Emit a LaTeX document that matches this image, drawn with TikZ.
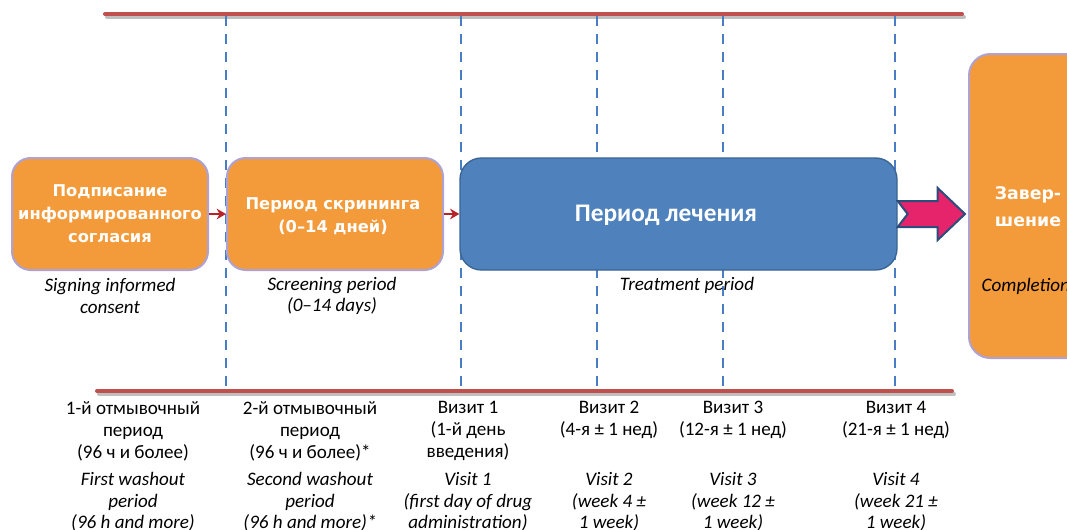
\documentclass[tikz,border=0pt]{standalone}
\usepackage{fontspec}
\setmainfont{Carlito}
\newfontfamily\boxfont{DejaVu Sans}
\usetikzlibrary{calc,arrows.meta}
\definecolor{orfill}{HTML}{F39A3B}
\definecolor{orline}{HTML}{ADA2D2}
\definecolor{blfill}{HTML}{4F81BD}
\definecolor{blline}{HTML}{3A6494}
\definecolor{redln}{HTML}{C0504D}
\definecolor{dashbl}{HTML}{4A7EC4}
\definecolor{pinkar}{HTML}{E6246B}
\definecolor{navy}{HTML}{2C4D7C}
\definecolor{darkred}{HTML}{B8232A}
\tikzset{
  orbox/.style={draw=orline, line width=1.5pt, fill=orfill, rounded corners=14, inner sep=0pt},
  blbox/.style={draw=blline, line width=1pt, fill=blfill, rounded corners=16, inner sep=0pt},
  boxtxt/.style={text=white, font=\boxfont\bfseries\fontsize{12.2}{17.2}\selectfont, align=center},
  timeline/.style={draw=redln, line width=3pt, line cap=round},
  tshadow/.style={draw=black!25, line width=3pt, line cap=round},
  vdash/.style={draw=dashbl, line width=0.9pt, dash pattern=on 7.5pt off 6pt},
  smallarrow/.style={draw=darkred, line width=2pt, -{Stealth[length=7pt,width=8pt]}},
  entxt/.style={font=\itshape\fontsize{14.3}{16.3}\selectfont, align=center},
  rutxt/.style={font=\fontsize{14.3}{16.5}\selectfont, align=center},
  lbl/.style={anchor=north, inner sep=0pt}
}
\begin{document}
\begin{tikzpicture}[x=0.75pt,y=-0.75pt]
\useasboundingbox (0,0) rectangle (1067,529);
\clip (0,0) rectangle (1067,529);
% timelines
\coordinate (tl1) at (105,14); \coordinate (tl2) at (962,14);
\coordinate (bl1) at (97,391); \coordinate (bl2) at (952,391);
\draw[tshadow] ($(tl1)+(2,3)$) -- ($(tl2)+(2,3)$);
\draw[tshadow] ($(bl1)+(2,3)$) -- ($(bl2)+(2,3)$);
% dashed verticals
\foreach \x/\n in {226/a,461/b,597/c,723/d,895/e}{
  \coordinate (top\n) at (\x,16);
  \coordinate (bot\n) at (\x,389);
  \draw[vdash] (top\n) -- (bot\n);
}
\draw[timeline] (tl1) -- (tl2);
\draw[timeline] (bl1) -- (bl2);
% boxes
\node[orbox, minimum width=196*0.75pt, minimum height=112*0.75pt] (consent) at (110,214) {};
\node[boxtxt] at (consent) {Подписание\\информированного\\согласия};
\node[orbox, minimum width=216*0.75pt, minimum height=112*0.75pt] (screen) at (335,214) {};
\node[boxtxt] at (333,216) {Период скрининга\\(0–14 дней)};
\node[blbox, minimum width=437*0.75pt, minimum height=112*0.75pt] (treat) at (678.5,214) {};
\node[text=white, font=\bfseries\fontsize{19}{22}\selectfont] at (666,215) {Период лечения};
\node[orbox, rounded corners=16, minimum width=130*0.75pt, minimum height=304*0.75pt, anchor=north west] (compl) at (968,53) {};
\node[boxtxt, font=\boxfont\bfseries\fontsize{13}{20.5}\selectfont, anchor=north] at (1028,182) {Завер-\\шение};
\node[entxt, anchor=west] at (977,286) {Completion};
% small arrows
\draw[smallarrow] (consent.east) -- (screen.west);
\draw[smallarrow] (screen.east) -- (treat.west);
% big notched arrow
\coordinate (at) at (treat.east);
\draw[fill=pinkar, draw=navy, line width=1.5pt, line join=miter]
  ($(at)+(0,-13)$) -- ($(at)+(40,-13)$) -- ($(at)+(40,-26)$) -- ($(compl.west |- at)+(-3,0)$)
  -- ($(at)+(40,26)$) -- ($(at)+(40,13)$) -- ($(at)+(0,13)$) -- ($(at)+(10,0)$) -- cycle;
% captions under boxes
\node[entxt] at (110,296) {Signing informed\\consent};
\node[entxt] at (332,296) {Screening period\\(0–14 days)};
\node[entxt] at (687,285) {Treatment period};
% bottom labels
\node[rutxt, lbl] at (133,401) {1-й отмывочный\\период\\(96 ч и более)};
\node[rutxt, lbl] at (310,401) {2-й отмывочный\\период\\(96 ч и более)*};
\node[rutxt, lbl] at (468,401) {Визит 1\\(1-й день\\введения)};
\node[rutxt, lbl] at (609,401) {Визит 2\\(4-я ± 1 нед)};
\node[rutxt, lbl] at (733,401) {Визит 3\\(12-я ± 1 нед)};
\node[rutxt, lbl] at (896,401) {Визит 4\\(21-я ± 1 нед)};
\node[entxt, lbl] at (133,472) {First washout\\period\\(96 h and more)};
\node[entxt, lbl] at (310,472) {Second washout\\period\\(96 h and more)*};
\node[entxt, lbl] at (468,472) {Visit 1\\(first day of drug\\administration)};
\node[entxt, lbl] at (609,472) {Visit 2\\(week 4 ±\\1 week)};
\node[entxt, lbl] at (733,472) {Visit 3\\(week 12 ±\\1 week)};
\node[entxt, lbl] at (896,472) {Visit 4\\(week 21 ±\\1 week)};
\end{tikzpicture}
\end{document}
